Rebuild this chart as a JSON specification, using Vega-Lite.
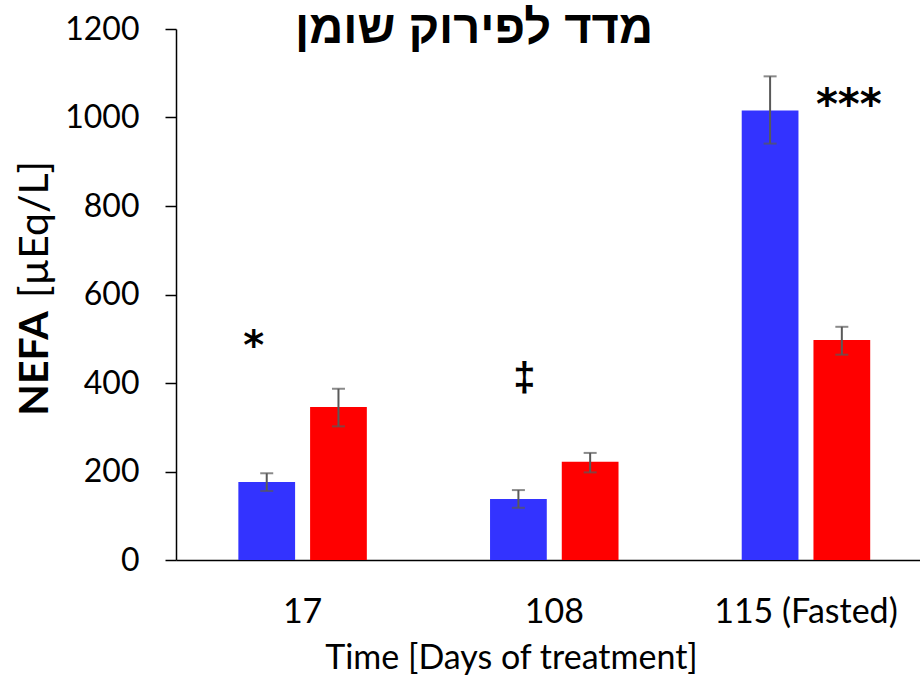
{
  "$schema": "https://vega.github.io/schema/vega-lite/v6.json",
  "width": 744,
  "height": 531,
  "autosize": {"type": "none"},
  "padding": {"left": 176, "top": 29, "right": 0, "bottom": 115},
  "background": "white",
  "config": {"view": {"stroke": null}, "axis": {"grid": false}},
  "title": {
    "text": "מדד לפירוק שומן",
    "font": "Liberation Sans",
    "fontSize": 47,
    "fontWeight": "bold",
    "color": "black",
    "anchor": "middle",
    "frame": "group",
    "baseline": "alphabetic",
    "offset": -43,
    "dx": -74,
    "dy": 34
  },
  "datasets": {
    "bars": [
      {"time": "17", "grp": "g1", "v": 176, "lo": 156, "hi": 196},
      {"time": "17", "grp": "g2", "v": 346, "lo": 302, "hi": 387},
      {"time": "108", "grp": "g1", "v": 138, "lo": 118, "hi": 158},
      {"time": "108", "grp": "g2", "v": 222, "lo": 198, "hi": 242},
      {"time": "115 (Fasted)", "grp": "g1", "v": 1016, "lo": 941, "hi": 1093},
      {"time": "115 (Fasted)", "grp": "g2", "v": 497, "lo": 464, "hi": 527}
    ],
    "notes": [
      {"time": "17", "grp": "g1", "v": 454, "label": "*"},
      {"time": "108", "grp": "g1", "v": 382, "label": "‡"},
      {"time": "115 (Fasted)", "grp": "g2", "v": 997, "label": "***"}
    ]
  },
  "encoding": {
    "x": {
      "field": "time",
      "type": "nominal",
      "sort": ["17", "108", "115 (Fasted)"],
      "scale": {"paddingInner": 0.4895, "paddingOuter": 0.2228, "align": 0.556},
      "axis": {
        "title": "Time [Days of treatment]",
        "labelAngle": 0,
        "labelLimit": 400,
        "ticks": false,
        "tickSize": 0,
        "domainColor": "black",
        "domainWidth": 1.5,
        "labelFont": "Lato",
        "labelFontSize": 34,
        "labelColor": "black",
        "labelPadding": 35,
        "titleFont": "Lato",
        "titleFontSize": 34,
        "titleFontWeight": "normal",
        "titleColor": "black",
        "titleX": 335,
        "titleY": 108,
        "titleBaseline": "alphabetic",
        "titleAlign": "center"
      }
    },
    "xOffset": {
      "field": "grp",
      "type": "nominal",
      "sort": ["g1", "g2"],
      "scale": {"paddingInner": 0.209, "paddingOuter": 0}
    }
  },
  "layer": [
    {
      "data": {"name": "bars"},
      "mark": {"type": "bar"},
      "encoding": {
        "y": {
          "field": "v",
          "type": "quantitative",
          "scale": {"domain": [0, 1200], "nice": false, "zero": true},
          "axis": {
            "orient": "left",
            "values": [0, 200, 400, 600, 800, 1000, 1200],
            "format": "d",
            "tickSize": 11,
            "tickColor": "black",
            "tickWidth": 1.5,
            "domainColor": "black",
            "domainWidth": 1.5,
            "labelFont": "Lato",
            "labelFontSize": 32,
            "labelColor": "black",
            "labelPadding": 26,
            "title": "NEFA",
            "titleFont": "Lato",
            "titleFontSize": 41,
            "titleFontWeight": "bold",
            "titleColor": "black",
            "titleAngle": -90,
            "titleX": -129,
            "titleY": 334,
            "titleBaseline": "alphabetic",
            "titleAlign": "center"
          }
        },
        "color": {
          "field": "grp",
          "type": "nominal",
          "scale": {"domain": ["g1", "g2"], "range": ["#3333FF", "#FF0000"]},
          "legend": null
        }
      }
    },
    {
      "data": {"name": "bars"},
      "mark": {"type": "rule", "color": "#595959", "strokeWidth": 2},
      "encoding": {
        "y": {
          "field": "lo",
          "type": "quantitative",
          "scale": {"domain": [0, 1200], "nice": false, "zero": true},
          "axis": {
            "orient": "left",
            "labels": false,
            "ticks": false,
            "domain": false,
            "title": "[µEq/L]",
            "titleFont": "Lato",
            "titleFontSize": 41,
            "titleFontWeight": "normal",
            "titleColor": "black",
            "titleAngle": -90,
            "titleX": -129,
            "titleY": 200,
            "titleBaseline": "alphabetic",
            "titleAlign": "center"
          }
        },
        "y2": {"field": "hi"}
      }
    },
    {
      "data": {"name": "bars"},
      "mark": {"type": "tick", "orient": "horizontal", "color": "#595959", "size": 13, "thickness": 2},
      "encoding": {
        "y": {"field": "lo", "type": "quantitative", "scale": {"domain": [0, 1200], "nice": false}, "axis": null}
      }
    },
    {
      "data": {"name": "bars"},
      "mark": {"type": "tick", "orient": "horizontal", "color": "#595959", "size": 13, "thickness": 2},
      "encoding": {
        "y": {"field": "hi", "type": "quantitative", "scale": {"domain": [0, 1200], "nice": false}, "axis": null}
      }
    },
    {
      "data": {"name": "notes"},
      "transform": [{"filter": "datum.label == '*'"}],
      "mark": {"type": "text", "font": "DejaVu Sans", "fontWeight": "bold", "fontSize": 40, "baseline": "alphabetic", "color": "black", "dx": -13},
      "encoding": {
        "y": {"field": "v", "type": "quantitative", "scale": {"domain": [0, 1200], "nice": false}, "axis": null},
        "text": {"field": "label"}
      }
    },
    {
      "data": {"name": "notes"},
      "transform": [{"filter": "datum.label == '‡'"}],
      "mark": {"type": "text", "font": "Liberation Sans", "fontWeight": "bold", "fontSize": 40, "baseline": "alphabetic", "color": "black", "dx": 6},
      "encoding": {
        "y": {"field": "v", "type": "quantitative", "scale": {"domain": [0, 1200], "nice": false}, "axis": null},
        "text": {"field": "label"}
      }
    },
    {
      "data": {"name": "notes"},
      "transform": [{"filter": "datum.label == '***'"}],
      "mark": {"type": "text", "font": "DejaVu Sans", "fontWeight": "bold", "fontSize": 42, "baseline": "alphabetic", "color": "black", "dx": 7},
      "encoding": {
        "y": {"field": "v", "type": "quantitative", "scale": {"domain": [0, 1200], "nice": false}, "axis": null},
        "text": {"field": "label"}
      }
    }
  ],
  "resolve": {"axis": {"y": "independent"}}
}
